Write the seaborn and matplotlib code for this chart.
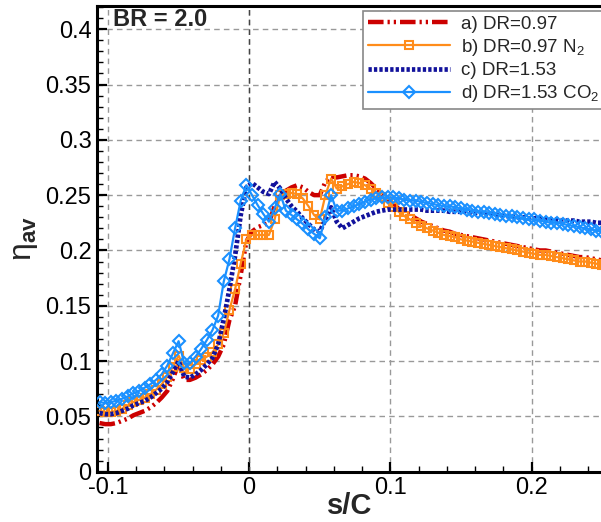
import matplotlib
matplotlib.use("Agg")
import matplotlib.pyplot as plt
import seaborn as sns
import pandas as pd
from matplotlib.ticker import MultipleLocator, FuncFormatter

# ---------------- data ----------------
s_c = [-0.106, -0.102, -0.098, -0.094, -0.090, -0.086, -0.082, -0.078, -0.074, -0.070,
       -0.066, -0.062, -0.058, -0.054, -0.050, -0.046, -0.042, -0.038, -0.034, -0.030,
       -0.026, -0.022, -0.018, -0.014, -0.010, -0.006, -0.002,
       0.002, 0.006, 0.010, 0.014, 0.018, 0.022, 0.026, 0.030, 0.034, 0.038,
       0.042, 0.046, 0.050, 0.054, 0.058, 0.062, 0.066, 0.070, 0.074, 0.078,
       0.082, 0.086, 0.090, 0.094, 0.098, 0.102,
       0.106, 0.110, 0.114, 0.118, 0.122, 0.126, 0.130, 0.134, 0.138, 0.142,
       0.146, 0.150, 0.154, 0.158, 0.162, 0.166, 0.170, 0.174, 0.178, 0.182,
       0.186, 0.190, 0.194, 0.198, 0.202, 0.206, 0.210, 0.214, 0.218, 0.222,
       0.226, 0.230, 0.234, 0.238, 0.242, 0.246, 0.250]

eta_a = [0.044, 0.043, 0.043, 0.044, 0.046, 0.048, 0.051, 0.053, 0.055, 0.058,
         0.062, 0.067, 0.073, 0.084, 0.098, 0.083, 0.083, 0.085, 0.088, 0.092,
         0.097, 0.104, 0.115, 0.137, 0.150, 0.178, 0.208,
         0.217, 0.221, 0.223, 0.225, 0.240, 0.250, 0.254, 0.257, 0.259, 0.257,
         0.253, 0.250, 0.250, 0.262, 0.267, 0.266, 0.267, 0.268, 0.268, 0.267,
         0.265, 0.261, 0.256, 0.251, 0.246, 0.241,
         0.238, 0.235, 0.232, 0.229, 0.226, 0.224, 0.222, 0.220, 0.218, 0.217,
         0.215, 0.214, 0.213, 0.212, 0.211, 0.210, 0.209, 0.208, 0.207, 0.206,
         0.205, 0.204, 0.203, 0.202, 0.201, 0.200, 0.200, 0.199, 0.198, 0.197,
         0.196, 0.195, 0.194, 0.194, 0.193, 0.192, 0.191]

eta_b = [0.055, 0.054, 0.054, 0.055, 0.057, 0.060, 0.063, 0.065, 0.067, 0.070,
         0.074, 0.079, 0.086, 0.095, 0.105, 0.094, 0.093, 0.097, 0.101, 0.104,
         0.108, 0.115, 0.125, 0.146, 0.165, 0.188, 0.210,
         0.214, 0.214, 0.214, 0.214, 0.228, 0.250, 0.251, 0.252, 0.251, 0.247,
         0.240, 0.232, 0.228, 0.250, 0.265, 0.256, 0.258, 0.260, 0.262, 0.261,
         0.259, 0.256, 0.252, 0.248, 0.243, 0.239,
         0.235, 0.231, 0.228, 0.225, 0.222, 0.220, 0.218, 0.216, 0.214, 0.213,
         0.212, 0.210, 0.209, 0.208, 0.207, 0.206, 0.205, 0.204, 0.203, 0.202,
         0.201, 0.200, 0.199, 0.198, 0.197, 0.196, 0.196, 0.195, 0.194, 0.193,
         0.192, 0.191, 0.190, 0.190, 0.189, 0.188, 0.187]

eta_c = [0.053, 0.052, 0.052, 0.053, 0.055, 0.057, 0.060, 0.062, 0.064, 0.067,
         0.071, 0.075, 0.081, 0.090, 0.100, 0.086, 0.085, 0.088, 0.092, 0.097,
         0.103, 0.115, 0.138, 0.165, 0.195, 0.232, 0.257,
         0.261, 0.257, 0.253, 0.251, 0.262, 0.256, 0.247, 0.240, 0.235, 0.229,
         0.224, 0.219, 0.217, 0.228, 0.239, 0.226, 0.220, 0.223, 0.226, 0.229,
         0.231, 0.233, 0.235, 0.236, 0.237, 0.237,
         0.237, 0.237, 0.237, 0.237, 0.237, 0.236, 0.236, 0.236, 0.236, 0.235,
         0.235, 0.235, 0.235, 0.234, 0.234, 0.233, 0.233, 0.232, 0.232, 0.231,
         0.231, 0.230, 0.230, 0.229, 0.229, 0.229, 0.228, 0.228, 0.228, 0.227,
         0.227, 0.227, 0.226, 0.226, 0.226, 0.225, 0.225]

eta_d = [0.063, 0.062, 0.063, 0.064, 0.066, 0.068, 0.071, 0.073, 0.076, 0.079,
         0.083, 0.088, 0.096, 0.107, 0.118, 0.098, 0.098, 0.104, 0.111, 0.119,
         0.128, 0.141, 0.172, 0.192, 0.220, 0.245, 0.259,
         0.250, 0.241, 0.233, 0.226, 0.238, 0.251, 0.236, 0.232, 0.228, 0.224,
         0.219, 0.215, 0.211, 0.230, 0.250, 0.236, 0.236, 0.238, 0.240, 0.242,
         0.244, 0.246, 0.247, 0.248, 0.248, 0.248,
         0.247, 0.246, 0.245, 0.245, 0.244, 0.243, 0.242, 0.241, 0.240, 0.240,
         0.239, 0.238, 0.237, 0.236, 0.235, 0.235, 0.234, 0.233, 0.232, 0.231,
         0.231, 0.230, 0.229, 0.228, 0.228, 0.227, 0.226, 0.225, 0.225, 0.224,
         0.223, 0.222, 0.221, 0.220, 0.219, 0.218, 0.217]

series_labels = ["a) DR=0.97", "b) DR=0.97 N$_2$", "c) DR=1.53", "d) DR=1.53 CO$_2$"]
x_ticks = [-0.1, 0.0, 0.1, 0.2]
y_ticks = [0, 0.05, 0.1, 0.15, 0.2, 0.25, 0.3, 0.35, 0.4]
annotation = "BR = 2.0"

# ---------------- style ----------------
sns.set_theme(style="white")
plt.rcParams.update({
    "font.family": ["Liberation Sans", "DejaVu Sans"],
    "mathtext.fontset": "custom",
    "mathtext.rm": "Liberation Sans",
    "mathtext.it": "Liberation Sans:italic",
    "mathtext.bf": "Liberation Sans:bold",
    "axes.unicode_minus": False,
})

RED = "#cc0000"
ORANGE = "#ff8c1a"
NAVY = "#12129c"
LBLUE = "#1a90ff"

fig = plt.figure(figsize=(6.01, 5.22), dpi=100)
ax = fig.add_axes([97 / 601, 1 - 471.7 / 522, 1 - 97 / 601 + 0.003, (471.7 - 6) / 522])

df = pd.DataFrame({"s_c": s_c, "a": eta_a, "b": eta_b, "c": eta_c, "d": eta_d})

sns.lineplot(data=df, x="s_c", y="a", ax=ax, color=RED, lw=3.2,
             linestyle=(0, (3.5, 0.9, 0.5, 0.9, 0.5, 0.9)),
             label=series_labels[0], errorbar=None, sort=False, zorder=3)
sns.lineplot(data=df, x="s_c", y="b", ax=ax, color=ORANGE, lw=1.6,
             marker="s", markersize=6.2, markerfacecolor="none",
             markeredgecolor=ORANGE, markeredgewidth=1.5,
             label=series_labels[1], errorbar=None, sort=False, zorder=4)
sns.lineplot(data=df, x="s_c", y="c", ax=ax, color=NAVY, lw=3.4,
             linestyle=(0, (0.7, 0.45)),
             label=series_labels[2], errorbar=None, sort=False, zorder=5)
sns.lineplot(data=df, x="s_c", y="d", ax=ax, color=LBLUE, lw=1.6,
             marker="D", markersize=6.3, markerfacecolor="none",
             markeredgecolor=LBLUE, markeredgewidth=1.5,
             label=series_labels[3], errorbar=None, sort=False, zorder=6)

ax.set_xlim(-0.1078, 0.2505)
ax.set_ylim(0, 0.421)
ax.set_xticks(x_ticks)
ax.set_yticks(y_ticks)
ax.xaxis.set_minor_locator(MultipleLocator(0.02))
ax.yaxis.set_minor_locator(MultipleLocator(0.01))
fmt = FuncFormatter(lambda v, p: f"{v:g}")
ax.xaxis.set_major_formatter(fmt)
ax.yaxis.set_major_formatter(fmt)

ax.grid(True, which="major", linestyle=(0, (4, 3)), color="#999999", lw=1.0, zorder=0)
ax.axvline(0, color="#444444", linestyle=(0, (4, 3)), lw=1.0, zorder=1)
ax.set_axisbelow(True)

ax.tick_params(which="both", direction="in", top=False, right=False,
               bottom=True, left=True, colors="black", labelsize=17)
ax.tick_params(which="major", length=7, width=1.6, pad=4)
ax.tick_params(which="minor", length=4, width=1.0)

for side in ["left", "bottom", "top"]:
    ax.spines[side].set_linewidth(2.2)
    ax.spines[side].set_color("black")
ax.spines["right"].set_visible(False)

ax.set_xlabel("s/C", fontsize=21, fontweight="bold", labelpad=-5)
ax.set_ylabel("η$_{\\mathbf{av}}$", fontsize=23, labelpad=4)

ax.text(0.032, 0.995, annotation, transform=ax.transAxes, fontsize=17,
        fontweight="bold", va="top", ha="left")

leg = ax.legend(loc="upper left", bbox_to_anchor=(0.526, 0.989), frameon=True,
                fancybox=False, edgecolor="#888888", framealpha=1, fontsize=13.5,
                handlelength=4.4, labelspacing=0.22, borderpad=0.25,
                handletextpad=0.6, borderaxespad=0)
leg.get_frame().set_linewidth(1.2)

fig.savefig("out.png", dpi=100)
